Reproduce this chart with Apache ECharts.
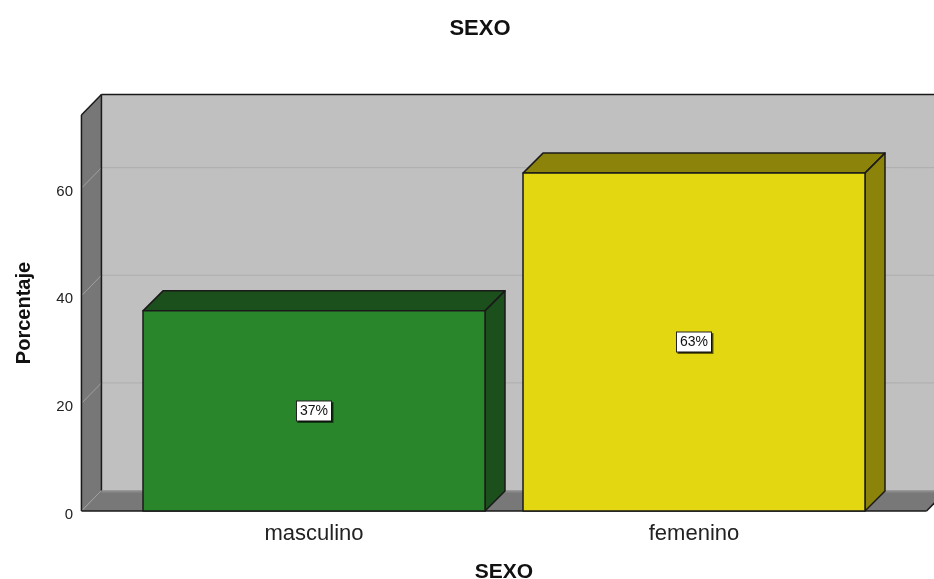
<!DOCTYPE html>
<html>
<head>
<meta charset="utf-8">
<script src="https://cdn.jsdelivr.net/npm/echarts@6/dist/echarts.min.js"></script>
<style>html,body{margin:0;padding:0;background:#fff}#c{width:934px;height:579px}</style>
</head>
<body>
<div id="c"></div>
<script>
const categories = ['masculino', 'femenino'];
const percentages = [37.2, 62.8];
const percentLabels = ['37%', '63%'];
const yTicks = [0, 20, 40, 60];
const yMax = 73.6;

const frontColors = ['#29862a', '#e3d712'];
const darkColors = ['#1b4f1b', '#8c840a'];
const EDGE = '#1a1a1a';
const DX = 20, DY = -20.5;
const SIDE = 0.612; // floor extension beyond category centres, in bands

function renderWalls(params, api) {
  const c0 = api.coord([0, 0]);
  const c1 = api.coord([1, 0]);
  const band = c1[0] - c0[0];
  const L = c0[0] - SIDE * band;
  const R = c1[0] + SIDE * band;
  const y0 = c0[1];
  const yT = api.coord([0, yMax])[1];
  const ch = [];
  ch.push({type: 'rect', shape: {x: L + DX, y: yT + DY, width: R - L + 40, height: y0 - yT}, style: {fill: '#c0c0c0'}});
  ch.push({type: 'polygon', shape: {points: [[L, yT], [L + DX, yT + DY], [L + DX, y0 + DY], [L, y0]]}, style: {fill: '#777777'}});
  ch.push({type: 'polygon', shape: {points: [[L, y0], [L + DX, y0 + DY], [R + DX, y0 + DY], [R, y0]]}, style: {fill: '#787878'}});
  ch.push({type: 'line', shape: {x1: L + DX, y1: y0 + DY + 1, x2: R + DX, y2: y0 + DY + 1}, style: {stroke: '#8a8a8a', lineWidth: 2}});
  yTicks.forEach(function (v) {
    const yv = api.coord([0, v])[1];
    if (v > 0) {
      ch.push({type: 'line', shape: {x1: L + DX, y1: yv + DY, x2: R + DX + 20, y2: yv + DY}, style: {stroke: '#adadad', lineWidth: 1}});
    }
    ch.push({type: 'line', shape: {x1: L + 1, y1: yv - 1, x2: L + DX, y2: yv + DY}, style: {stroke: '#a0a0a0', lineWidth: 1}});
  });
  const lines = [
    [L, yT, L, y0],
    [L, y0, R, y0],
    [L, yT, L + DX, yT + DY],
    [L + DX, yT + DY, R + DX + 20, yT + DY],
    [L + DX, yT + DY, L + DX, y0 + DY],
    [R, y0, R + DX, y0 + DY]
  ];
  lines.forEach(function (s) {
    ch.push({type: 'line', shape: {x1: s[0], y1: s[1], x2: s[2], y2: s[3]}, style: {stroke: EDGE, lineWidth: 1.5}});
  });
  return {type: 'group', children: ch};
}

function renderBars(params, api) {
  const i = params.dataIndex;
  const top = api.coord([api.value(0), api.value(1)]);
  const base = api.coord([api.value(0), 0]);
  const w = api.size([1, 0])[0] * 0.9;
  const xl = top[0] - w / 2, xr = top[0] + w / 2;
  const yt = top[1], yb = base[1];
  const dx = 20, dy = -20;
  const st = function (fill) { return {fill: fill, stroke: EDGE, lineWidth: 1.5, lineJoin: 'round'}; };
  return {
    type: 'group',
    children: [
      {type: 'polygon', shape: {points: [[xl, yt], [xl + dx, yt + dy], [xr + dx, yt + dy], [xr, yt]]}, style: st(darkColors[i])},
      {type: 'polygon', shape: {points: [[xr, yt], [xr + dx, yt + dy], [xr + dx, yb + dy], [xr, yb]]}, style: st(darkColors[i])},
      {type: 'rect', shape: {x: xl, y: yt, width: w, height: yb - yt}, style: st(frontColors[i])},
      {type: 'text', style: {
        text: percentLabels[i], x: top[0], y: (yt + yb) / 2,
        align: 'center', verticalAlign: 'middle',
        fontFamily: 'Liberation Sans, Arial, sans-serif', fontSize: 14, fill: '#111',
        backgroundColor: '#ffffff', borderColor: '#222', borderWidth: 1,
        padding: [3, 3, 2, 3],
        shadowColor: 'rgba(0,0,0,0.55)', shadowOffsetX: 1.5, shadowOffsetY: 1.5
      }}
    ]
  };
}

const chart = echarts.init(document.getElementById('c'), null, {renderer: 'canvas'});
chart.setOption({
  animation: false,
  backgroundColor: '#ffffff',
  title: {
    text: 'SEXO', left: 475, top: 13, textAlign: 'center',
    textStyle: {fontFamily: 'Liberation Sans, Arial, sans-serif', fontSize: 22, fontWeight: 'bold', color: '#111'}
  },
  grid: {left: 124, right: 50, top: 115, bottom: 68, outerBoundsMode: 'none', containLabel: false},
  xAxis: {
    type: 'category', data: categories,
    axisLine: {show: false}, axisTick: {show: false},
    axisLabel: {fontFamily: 'Liberation Sans, Arial, sans-serif', fontSize: 22, color: '#222', margin: 12},
    name: 'SEXO', nameLocation: 'middle', nameGap: 51,
    nameTextStyle: {fontFamily: 'Liberation Sans, Arial, sans-serif', fontSize: 21, fontWeight: 'bold', color: '#111'}
  },
  yAxis: {
    type: 'value', min: 0, max: yMax, interval: 20, offset: 42,
    axisLine: {show: false}, axisTick: {show: false}, splitLine: {show: false},
    axisLabel: {fontFamily: 'Liberation Sans, Arial, sans-serif', fontSize: 15, color: '#222', margin: 9,
      verticalAlign: 'top', lineHeight: 7, showMaxLabel: false},
    name: 'Porcentaje', nameLocation: 'middle', nameGap: 48, nameRotate: 90,
    nameTextStyle: {fontFamily: 'Liberation Sans, Arial, sans-serif', fontSize: 20, fontWeight: 'bold', color: '#111'}
  },
  series: [
    {type: 'custom', renderItem: renderWalls, data: [[0, 0]], z: 1, silent: true},
    {type: 'custom', renderItem: renderBars, data: categories.map(function (c, i) { return [i, percentages[i]]; }), z: 2, silent: true}
  ]
});
</script>
</body>
</html>
